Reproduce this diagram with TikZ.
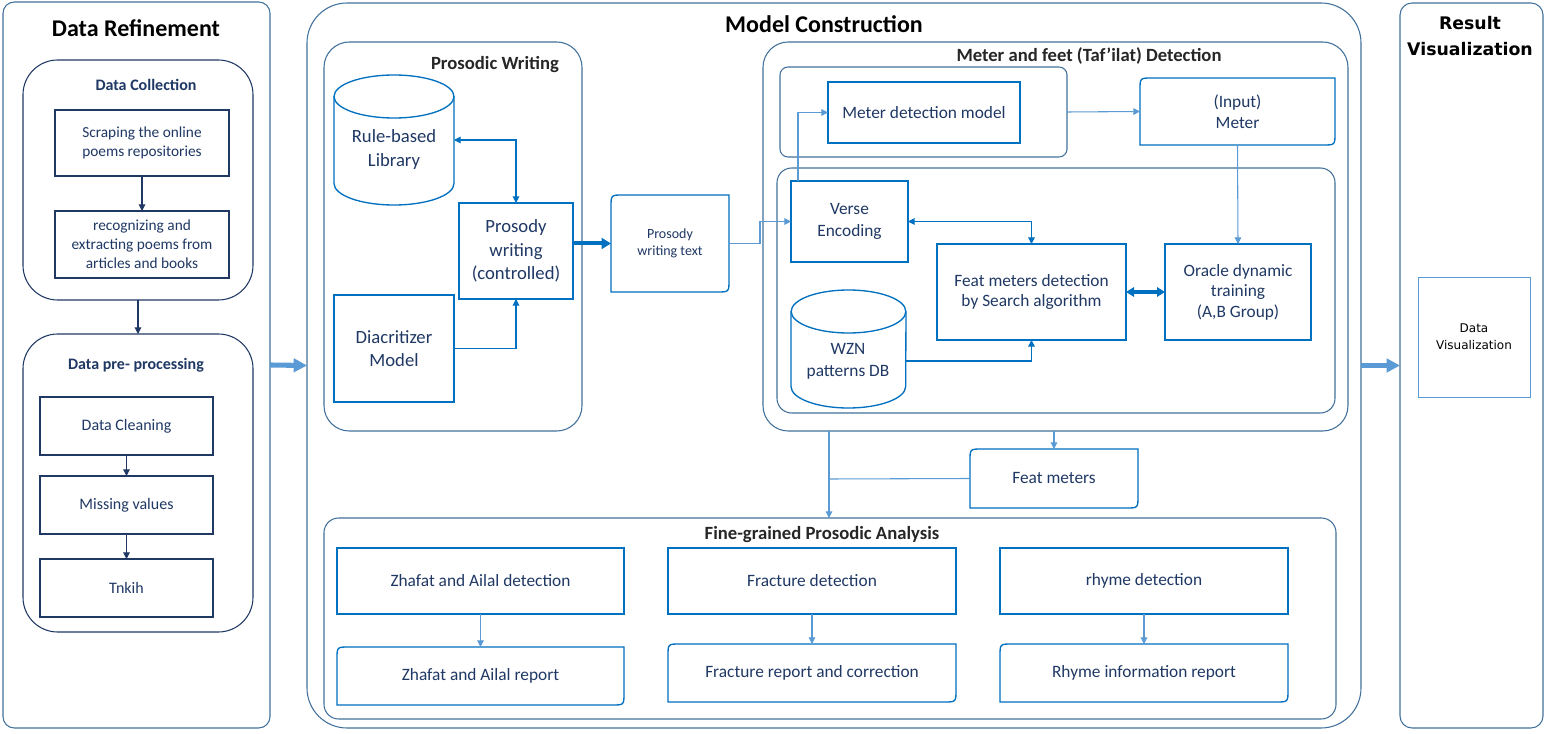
\documentclass[tikz,border=0pt]{standalone}
\usepackage{fontspec}
\setmainfont{Carlito}
\newfontfamily\dvs{DejaVu Sans}
\usetikzlibrary{arrows.meta,calc}
\definecolor{navy}{HTML}{1F3864}
\definecolor{steel}{HTML}{41719C}
\definecolor{mblue}{HTML}{0070C0}
\definecolor{lblue}{HTML}{5B9BD5}
\definecolor{ttl}{HTML}{262626}
\newcommand\fs[2]{\fontsize{#1}{#2}\selectfont}
\tikzset{
 every node/.style={inner sep=0pt, outer sep=0pt},
 bx/.style n args={4}{minimum width={(#3-#1)*0.75pt}, minimum height={(#4-#2)*0.75pt}, at={({(#1+#3)/2},{(#2+#4)/2})}},
 cont/.style={draw=steel, line width=0.8pt},
 navycont/.style={draw=navy, line width=0.8pt},
 lbox/.style={draw=navy, line width=0.9pt, text=navy, align=center, font=\fs{11.5}{14.3}},
 mbox/.style={draw=mblue, line width=1pt, text=navy, align=center, font=\fs{13}{15.7}},
 dtext/.style={text=navy, align=center, font=\fs{13}{15.7}},
 smalltext/.style={font=\fs{10.5}{12.75}},
 dgline/.style={draw=mblue, line width=1pt},
 cylst/.style={draw=mblue, line width=1pt},
 bigtitle/.style={font={\fs{18}{22}\bfseries}, text=black},
 subtitle/.style={font={\fs{14}{17}\bfseries}, text=ttl},
 navytitle/.style={font={\fs{12}{15}\bfseries}, text=navy},
 narr/.style={draw=navy, line width=0.8pt, -{Triangle[length=5pt,width=5pt]}},
 dcon/.style={draw=mblue, line width=0.8pt, -{Triangle[length=5pt,width=5pt]}},
 lcon/.style={draw=lblue, line width=0.8pt, -{Triangle[length=5pt,width=5pt]}},
 lline/.style={draw=lblue, line width=0.8pt},
 bigarr/.style={draw=lblue, line width=3.8pt, -{Triangle[length=10pt,width=10pt]}},
 thkarr/.style={draw=mblue, line width=3pt, -{Triangle[length=7pt,width=8pt]}},
 dblarr/.style={draw=mblue, line width=2.4pt, {Triangle[length=6pt,width=7pt]}-{Triangle[length=6pt,width=7pt]}},
}
\newcommand\dgbox[7][]{%
 \node[bx={#3}{#4}{#5}{#6}, dtext, #1] (#2) {#7};
 \draw[dgline] (#3,#6) -- (#3,#4+12) .. controls (#3,#4) .. (#3+12,#4) -- (#5,#4) -- (#5,#6-12) .. controls (#5,#6) .. (#5-12,#6) -- cycle;}
\newcommand\cyl[3]{%
 \draw[cylst] ($(#1.north)+(0,#3)$) ellipse [x radius=#2, y radius=#3*0.75pt];
 \draw[cylst] ($(#1.north west)+(0,#3)$) -- ($(#1.south west)+(0,-#3)$) arc[start angle=180, end angle=360, x radius=#2, y radius=#3*0.75pt] -- ($(#1.north east)+(0,#3)$);}
\begin{document}
\begin{tikzpicture}[x=0.75pt,y=-0.75pt]
\useasboundingbox (0,0) rectangle (1547,734);
\fill[white] (0,0) rectangle (1547,734);

% ---------- containers
\node[cont, rounded corners=8.5pt, bx={3}{2}{270}{728}] (dr) {};
\node[cont, rounded corners=30pt, bx={307}{3}{1361}{728}] (mc) {};
\node[cont, rounded corners=9pt, bx={1400}{3}{1543}{728}] (rv) {};
\node[navycont, rounded corners=26pt, bx={23}{60}{253}{300}] (dc) {};
\node[navycont, rounded corners=26pt, bx={23}{334}{253}{632}] (dp) {};
\node[cont, rounded corners=19pt, bx={324}{42}{582}{431}] (pwc) {};
\node[cont, rounded corners=19pt, bx={763}{42}{1348}{431}] (mfd) {};
\node[cont, rounded corners=6pt, bx={780}{67}{1067}{157}] (upper) {};
\node[cont, rounded corners=11pt, bx={777}{168}{1335}{413}] (lower) {};
\node[cont, rounded corners=11pt, bx={324}{518}{1336}{719}] (fga) {};

% ---------- titles
\node[bigtitle] (tdr) at (136,28) {Data Refinement};
\node[bigtitle] (tmc) at (824,24) {Model Construction};
\node[font={\dvs\bfseries\fs{13}{20}}, align=center] (trv) at (1470,36) {Result\\Visualization};
\node[navytitle] (tdc) at (146,85) {Data Collection};
\node[navytitle] (tdp) at (136,365) {Data pre- processing};
\node[subtitle] (tpw) at (495,65) {Prosodic Writing};
\node[subtitle] (tmf) at (1089,56) {Meter and feet (Taf’ilat) Detection};
\node[subtitle] (tfg) at (822,535) {Fine-grained Prosodic Analysis};

% ---------- left column
\node[lbox, bx={55}{110}{229}{176}] (scrape) {Scraping the online\\poems repositories};
\node[lbox, bx={55}{211}{229}{278}] (recog) {recognizing and\\extracting poems from\\articles and books};
\node[lbox, font=\fs{12}{15}, bx={40}{397}{213}{455}] (clean) {Data Cleaning};
\node[lbox, font=\fs{12}{15}, bx={40}{476}{213}{534}] (miss) {Missing values};
\node[lbox, font=\fs{12}{15}, bx={40}{559}{213}{617}] (tnkih) {Tnkih};
\draw[narr] (scrape.south) -- (recog.north);
\draw[narr] (dc.south) -- (dp.north);
\draw[narr] (clean.south) -- (miss.north);
\draw[narr] (miss.south) -- (tnkih.north);

% ---------- prosodic writing
\node[bx={334}{75}{454}{205}] (lib) {};
\cyl{lib}{45pt}{21.5}
\node[dtext, font=\fs{14}{18}] (libtxt) at (394,150) {Rule-based\\Library};
\node[mbox, font=\fs{14}{17.6}, bx={459}{203}{573}{299}] (pw) {Prosody\\writing\\(controlled)};
\node[mbox, font=\fs{14}{17.3}, bx={334}{295}{454}{402}] (diac) {Diacritizer\\Model};
\draw[dcon, {Triangle[length=5pt,width=5pt]}-{Triangle[length=5pt,width=5pt]}] (lib.east) -| (pw.north);
\draw[dcon] (diac.east) -| (pw.south);

\dgbox[smalltext]{pwt}{611}{195}{729}{292}{Prosody\\writing text}
\draw[thkarr] (pw.east |- pwt.west) -- (pwt.west);

% ---------- meter detection
\node[mbox, bx={828}{82}{1020}{143}] (mdm) {Meter detection model};
\dgbox{inm}{1140}{78}{1335}{145}{(Input)\\Meter}
\node[mbox, font=\fs{13}{16.5}, bx={791}{181}{908}{262}] (verse) {Verse\\Encoding};
\node[bx={791}{290}{906}{408}] (wzn) {};
\cyl{wzn}{43pt}{21.5}
\node[dtext, font=\fs{13}{16.5}] (wzntxt) at (848,361) {WZN\\patterns DB};
\node[mbox, bx={937}{244}{1126}{340}] (feat) {Feat meters detection\\by Search algorithm};
\node[mbox, font=\fs{13}{15.4}, bx={1165}{244}{1311}{340}] (orc) {Oracle dynamic\\training\\(A,B Group)};

\draw[lcon] (pwt.east) -- ++(31,0) |- (verse.west);
\draw[lcon] ($(verse.north west)+(7,0)$) |- (mdm.west);
\draw[lcon] (upper.east) -- (inm.west);
\draw[lcon] (inm.south) -- (orc.north);
\draw[dcon, {Triangle[length=5pt,width=5pt]}-{Triangle[length=5pt,width=5pt]}] (verse.east) -| (feat.north);
\draw[dcon] ($(wzn.east)+(0,12)$) -| (feat.south);
\draw[dblarr] (feat.east) -- (orc.west);

% ---------- feat meters
\dgbox{fm}{970}{449}{1138}{508}{Feat meters}
\coordinate (j) at (829,479);
\draw[lline] (mfd.south -| j) -- (j);
\draw[lcon] (j) -- (fga.north -| j);
\draw[lline] (fm.west) -- (j);
\draw[lcon] (mfd.south -| fm.north) -- (fm.north);

% ---------- fine-grained analysis
\node[mbox, bx={337}{548}{624}{614}] (zd) {Zhafat and Ailal detection};
\node[mbox, bx={668}{548}{956}{614}] (fd) {Fracture detection};
\node[mbox, bx={1000}{548}{1288}{614}] (rd) {rhyme detection};
\dgbox{zr}{337}{647}{624}{705}{Zhafat and Ailal report}
\dgbox{fr}{668}{644}{956}{702}{Fracture report and correction}
\dgbox{rr}{1000}{644}{1288}{702}{Rhyme information report}
\draw[lcon] (zd.south) -- (zr.north);
\draw[lcon] (fd.south) -- (fr.north);
\draw[lcon] (rd.south) -- (rr.north);

% ---------- result visualization
\node[draw=lblue, line width=0.6pt, bx={1418}{277}{1530}{397}, font={\dvs\fs{9}{12.75}}, align=center] (dv) {Data\\Visualization};

% ---------- big arrows
\draw[bigarr] (dr.east) -- (mc.west);
\draw[bigarr] (mc.east) -- (rv.west);
\end{tikzpicture}
\end{document}
